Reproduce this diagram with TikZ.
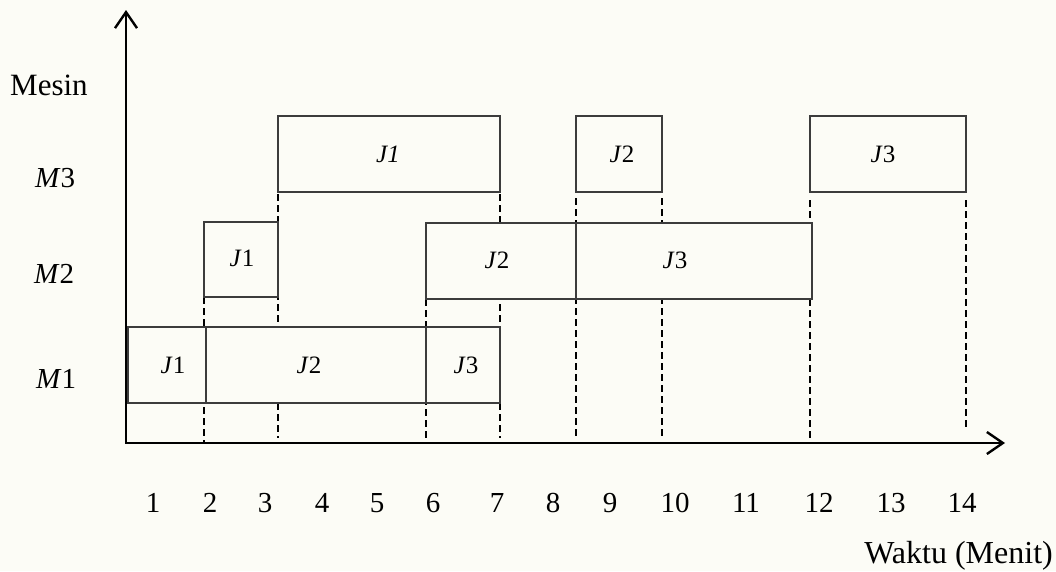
\documentclass[tikz,border=0pt]{standalone}
\usepackage{fontspec}
\setmainfont{Liberation Serif}
\usetikzlibrary{arrows.meta}
\pgfdeclarelayer{paperlayer}
\pgfdeclarelayer{guides}
\pgfsetlayers{paperlayer,guides,main}
\definecolor{paper}{RGB}{252,252,246}
\definecolor{boxline}{RGB}{60,60,60}
\tikzset{
  jbox/.style={draw=boxline, line width=1.1pt, fill=paper, inner sep=0pt, outer sep=0pt},
  jlabel/.style={anchor=base, inner sep=0pt, font=\fontsize{25}{28}\selectfont},
  mlabel/.style={anchor=base west, inner sep=0pt, font=\fontsize{29}{32}\selectfont},
  tick/.style={anchor=base, inner sep=0pt, font=\fontsize{29}{32}\selectfont},
  axis/.style={line width=2.4pt, -{Straight Barb[length=16pt,width=22pt,line width=2.4pt]}},
  dashline/.style={line width=1.4pt, dash pattern=on 7pt off 4pt}
}
\begin{document}
\begin{tikzpicture}[x=1pt,y=-1pt]
\begin{pgfonlayer}{paperlayer}
\fill[paper] (0,0) rectangle (1056,571);
\end{pgfonlayer}
\useasboundingbox (0,0) rectangle (1056,571);

% axis points
\coordinate (origin) at (126,443);
\coordinate (ytip) at (126,10);
\coordinate (xtip) at (1005,443);
\coordinate (base) at (0,438);

% machine rows: one box per job on each machine
\node[jbox, minimum width=222pt, minimum height=76pt] (m3j1) at (389,154) {};
\node[jbox, minimum width=86pt,  minimum height=76pt] (m3j2) at (619,154) {};
\node[jbox, minimum width=156pt, minimum height=76pt] (m3j3) at (888,154) {};
\node[jbox, minimum width=74pt,  minimum height=75pt] (m2j1) at (241,259.5) {};
\node[jbox, minimum width=150pt, minimum height=76pt] (m2j2) at (501,261) {};
\node[jbox, minimum width=236pt, minimum height=76pt] (m2j3) at (694,261) {};
\node[jbox, minimum width=78pt,  minimum height=76pt] (m1j1) at (167,365) {};
\node[jbox, minimum width=220pt, minimum height=76pt] (m1j2) at (316,365) {};
\node[jbox, minimum width=74pt,  minimum height=76pt] (m1j3) at (463,365) {};

% dashed guide lines down to the time axis, kept behind the boxes
\begin{pgfonlayer}{guides}
\draw[dashline] (m2j1.south west) -- (m2j1.south west |- origin);
\draw[dashline] ([yshift=-2pt]m3j1.south west) -- (m3j1.south west |- base);
\draw[dashline] (m2j2.south west) -- (m2j2.south west |- origin);
\draw[dashline] ([yshift=-2pt]m3j1.south east) -- (m3j1.south east |- base);
\draw[dashline] ([yshift=-6pt]m3j2.south west) -- (m3j2.south west |- base);
\draw[dashline] ([yshift=-6pt]m3j2.south east) -- (m3j2.south east |- base);
\draw[dashline] ([yshift=-8pt]m3j3.south west) -- (m3j3.south west |- base);
\draw[dashline] ([yshift=-8pt]m3j3.south east) -- ([yshift=11pt]m3j3.south east |- base);
\end{pgfonlayer}

% job labels
\node[jlabel] (t31) at (388,162) {\textit{J1}};
\node[jlabel] (t32) at (622,162) {\textit{J}2};
\node[jlabel] (t33) at (883,162) {\textit{J}3};
\node[jlabel] (t21) at (242,266) {\textit{J}1};
\node[jlabel] (t22) at (497,268) {\textit{J}2};
\node[jlabel] (t23) at (675,268) {\textit{J}3};
\node[jlabel] (t11) at (173,373) {\textit{J}1};
\node[jlabel] (t12) at (309,373) {\textit{J}2};
\node[jlabel] (t13) at (466,373) {\textit{J}3};

% axes
\draw[axis] (origin) -- (ytip);
\draw[axis] ([xshift=-1pt]origin) -- (xtip);

% axis titles and machine names
\node[anchor=base west, inner sep=0pt, font=\fontsize{31}{34}\selectfont] (mesin) at (10,95) {Mesin};
\node[mlabel] (lm3) at (35,187) {\textit{M}3};
\node[mlabel] (lm2) at (34,283) {\textit{M}2};
\node[mlabel] (lm1) at (36,388) {\textit{M}1};
\node[anchor=base east, inner sep=0pt, font=\fontsize{32}{35}\selectfont] (waktu) at (1053,563) {Waktu (Menit)};

% time ticks
\foreach \n/\x in {1/153,2/210,3/265,4/322,5/377,6/433,7/497,8/553,9/610,10/675,11/746,12/819,13/891,14/962}
  \node[tick] (tk\n) at (\x,512) {\n};
\end{tikzpicture}
\end{document}
